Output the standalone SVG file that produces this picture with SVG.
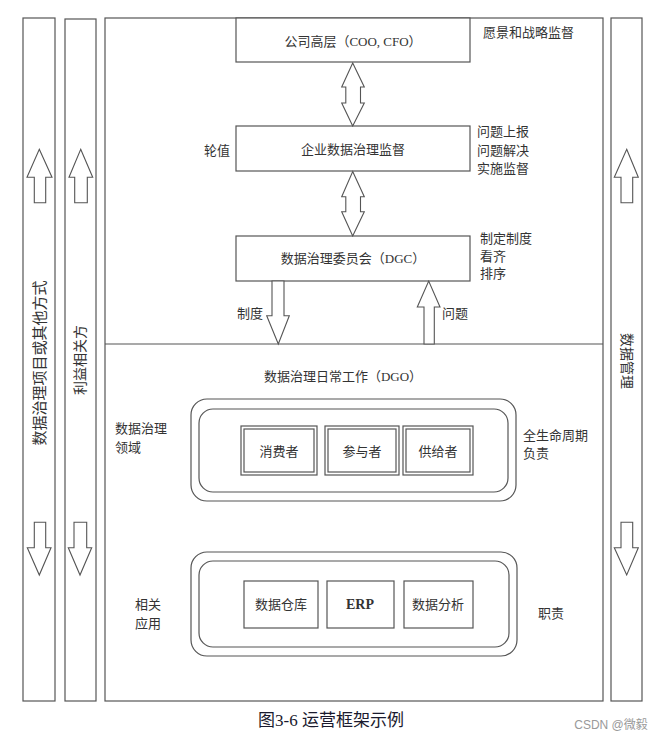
<svg xmlns="http://www.w3.org/2000/svg" width="661" height="740" viewBox="0 0 661 740">
<style>
.ln{fill:#fff;stroke:#555;stroke-width:1.2}
.ar{fill:#fff;stroke:#555;stroke-width:1.1;stroke-linejoin:miter}
text{font-family:"Liberation Serif","Noto Sans CJK SC",serif;fill:#333;font-size:13px}
.c{text-anchor:middle;dominant-baseline:central}
.l{dominant-baseline:central}
</style>
<rect width="661" height="740" fill="#fff"/>
<g id="col-left1">
<rect class="ln" x="23" y="18" width="32" height="683"/>
<text class="c" transform="translate(40,363) rotate(-90)" style="font-size:15px">数据治理项目或其他方式</text>
</g>
<g id="col-left2">
<rect class="ln" x="65" y="19" width="31" height="682"/>
<text class="c" transform="translate(80,360) rotate(-90)" style="font-size:14px">利益相关方</text>
</g>
<g id="col-right">
<rect class="ln" x="611" y="18" width="31" height="683"/>
<text class="c" transform="translate(626,361) rotate(90)" style="font-size:14px">数据管理</text>
</g>
<g id="main">
<rect class="ln" x="105" y="18" width="498" height="683"/>
<line x1="105" y1="344" x2="603" y2="344" stroke="#555" stroke-width="1.2"/>
</g>
<g id="n-exec">
<rect class="ln" x="236" y="18" width="234" height="44"/>
<text class="c" x="353" y="41">公司高层（COO, CFO）</text>
</g>
<g id="n-supervise">
<rect class="ln" x="236" y="126" width="234" height="45"/>
<text class="c" x="353" y="149">企业数据治理监督</text>
</g>
<g id="n-dgc">
<rect class="ln" x="236" y="236" width="234" height="45"/>
<text class="c" x="353" y="258">数据治理委员会（DGC）</text>
</g>
<g id="n-dgo">
<text class="c" x="343" y="376">数据治理日常工作（DGO）</text>
</g>
<g id="n-domain">
<rect class="ln" x="191" y="399" width="325" height="102" rx="16"/>
<rect class="ln" x="199" y="409" width="309" height="83" rx="14"/>
</g>
<g id="n-consumer">
<rect class="ln" x="241" y="426" width="76" height="49"/>
<rect class="ln" x="244" y="429" width="70" height="43"/>
<text class="c" x="279" y="451">消费者</text>
</g>
<g id="n-participant">
<rect class="ln" x="325" y="426" width="74" height="49"/>
<rect class="ln" x="328" y="429" width="68" height="43"/>
<text class="c" x="362" y="451">参与者</text>
</g>
<g id="n-supplier">
<rect class="ln" x="403" y="426" width="70" height="49"/>
<rect class="ln" x="406" y="429" width="64" height="43"/>
<text class="c" x="438" y="451">供给者</text>
</g>
<g id="n-apps">
<rect class="ln" x="191" y="552" width="326" height="104" rx="16"/>
<rect class="ln" x="199" y="561" width="310" height="86" rx="14"/>
</g>
<g id="n-dw">
<rect class="ln" x="244" y="581" width="74" height="47"/>
<text class="c" x="281" y="604">数据仓库</text>
</g>
<g id="n-erp">
<rect class="ln" x="327" y="581" width="67" height="47"/>
<text class="c" x="360" y="604" style="font-weight:bold;font-size:14px">ERP</text>
</g>
<g id="n-da">
<rect class="ln" x="404" y="581" width="69" height="47"/>
<text class="c" x="438" y="604">数据分析</text>
</g>
<g id="connectors">
<path class="ar" d="M352.7,63 L364.3,87 L360.5,87 L360.5,103 L364.3,103 L352.7,126 L341.7,103 L345.8,103 L345.8,87 L341.7,87 Z"/>
<path class="ar" d="M352.7,171.5 L364.3,196.7 L360.5,196.7 L360.5,211.7 L364.3,211.7 L352.7,236 L341.7,211.7 L345.8,211.7 L345.8,196.7 L341.7,196.7 Z"/>
<path class="ar" d="M272,281 L284,281 L284,315.7 L289.3,315.7 L278.3,344 L266.7,315.7 L272,315.7 Z"/>
<path class="ar" d="M424,344 L434.3,344 L434.3,307 L440,307 L428.7,281 L417.3,307 L424,307 Z"/>
<path class="ar" d="M39.3,149.3 L52,177.3 L45.7,177.3 L45.7,202.7 L34.3,202.7 L34.3,177.3 L27,177.3 Z"/>
<path class="ar" d="M34.3,522.3 L45.7,522.3 L45.7,547.7 L51,547.7 L39.3,575 L27.3,547.7 L34.3,547.7 Z"/>
<path class="ar" d="M80.7,149.3 L92.7,177.3 L87.3,177.3 L87.3,202.7 L74.7,202.7 L74.7,177.3 L69,177.3 Z"/>
<path class="ar" d="M74,522.3 L86.7,522.3 L86.7,547.7 L91.7,547.7 L80,575 L68.3,547.7 L74,547.7 Z"/>
<path class="ar" d="M626.7,149.3 L638.3,177.3 L632.7,177.3 L632.7,202.7 L621,202.7 L621,177.3 L614.3,177.3 Z"/>
<path class="ar" d="M621,522.3 L632.7,522.3 L632.7,547.7 L638.3,547.7 L626.7,575 L614.3,547.7 L621,547.7 Z"/>
</g>
<g id="labels">
<text class="l" x="483" y="32">愿景和战略监督</text>
<text class="l" x="204" y="150">轮值</text>
<text class="l" x="477" y="131">问题上报</text>
<text class="l" x="477" y="150">问题解决</text>
<text class="l" x="477" y="168">实施监督</text>
<text class="l" x="480" y="238">制定制度</text>
<text class="l" x="480" y="256">看齐</text>
<text class="l" x="480" y="273">排序</text>
<text class="l" x="237" y="313">制度</text>
<text class="l" x="442" y="313">问题</text>
<text class="l" x="115" y="428">数据治理</text>
<text class="l" x="115" y="447">领域</text>
<text class="l" x="523" y="435">全生命周期</text>
<text class="l" x="523" y="453">负责</text>
<text class="l" x="135" y="604">相关</text>
<text class="l" x="135" y="623">应用</text>
<text class="l" x="538" y="613">职责</text>
<text class="c" x="331" y="720" style="font-size:17px;fill:#1a1a2e">图3-6 运营框架示例</text>
<text class="c" x="611" y="725" style="font-size:12px;fill:#999;font-family:'Liberation Sans','Noto Sans CJK SC',sans-serif">CSDN @微毅</text>
</g>
</svg>
